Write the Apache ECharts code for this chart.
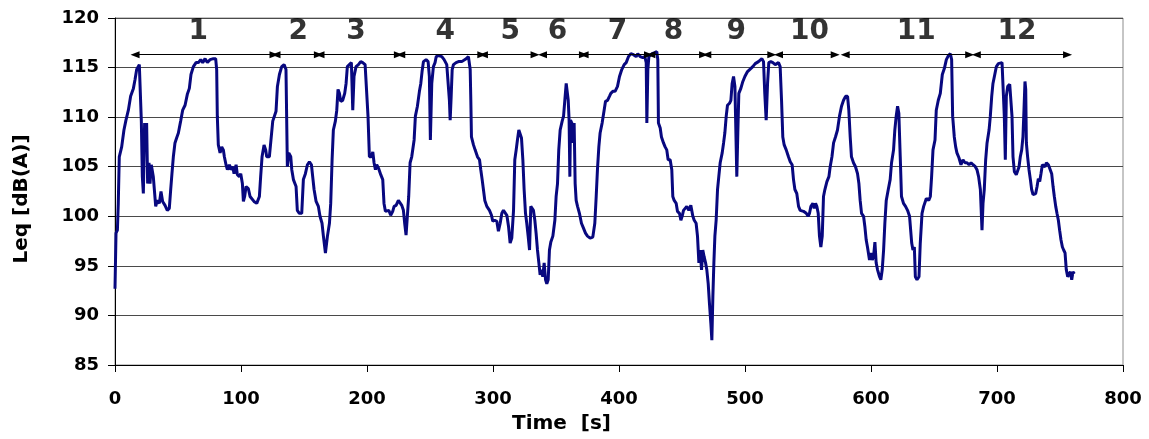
<!DOCTYPE html>
<html>
<head>
<meta charset="utf-8">
<script src="https://cdn.jsdelivr.net/npm/echarts@6/dist/echarts.min.js"></script>
<style>
  html, body { margin: 0; padding: 0; background: #fff; }
  #chart { width: 1149px; height: 439px; }
</style>
</head>
<body>
<div id="chart"></div>
<script>
// Leq trace, [time s, dB(A)], split by stretch
const trace1 = [[0,92.7],[0.8,98.3],[1.9,98.6],[2.6,101.3],[3.4,106.0],[5.3,107.0],[7.1,108.7],[8.7,109.7],[10.6,110.7],[12.4,112.1],[14.6,112.9],[15.9,113.8],[17.2,114.8],[19.3,115.3],[20.4,115.5],[20.9,109.6],[21.7,104.0],[22.5,102.3],[23.5,109.4],[24.3,108.0],[25.1,109.4],[25.9,103.3],[27.0,105.4],[27.8,103.3],[28.8,105.2],[30.4,104.0],[31.2,104.2],[32.3,101.0],[33.6,101.6],[35.2,101.3],[36.5,102.5],[37.8,101.5],[39.7,101.1],[41.5,100.6],[43.1,100.8],[44.2,102.7],[45.2,104.3],[46.3,106.0],[47.6,107.4],[48.9,107.9],[50.3,108.4],[52.1,109.6],[53.7,110.7],[55.6,111.2],[57.4,112.3],[59.0,112.9],[60.3,114.3],[62.2,115.1],[64.3,115.5],[66.2,115.5],[68.0,115.8],[69.6,115.5],[71.5,115.9],[73.3,115.5],[75.4,115.8],[78.1,115.9],[79.9,115.9],[80.7,114.8],[81.2,110.1],[82.0,107.2],[83.4,106.4],[84.7,107.0],[86.0,106.7],[86.8,106.0],[88.1,105.2],[89.2,104.7],[90.8,105.2],[91.8,104.7],[93.4,105.0],[94.5,104.3],[96.1,105.2],[97.1,104.2],[98.7,104.0],[99.8,104.3],[101.1,103.3],[101.9,101.5],[102.9,102.0],[104.0,103.0],[105.8,102.8],[107.2,102.0],[108.5,101.8],[110.3,101.5],[112.5,101.3],[114.6,102.0],[115.6,104.0],[116.7,106.0],[118.3,107.2],[119.6,106.7],[120.4,106.0],[122.5,106.0]]

const trace2 = [[125.2,109.6],[127.8,110.6],[128.9,113.1],[130.5,114.3],[132.3,115.1],[134.2,115.3],[135.7,114.8],[136.8,105.0],[137.9,106.4],[139.5,106.0],[140.3,104.7],[141.6,103.7],[143.7,103.0],[144.7,100.6],[146.3,100.3],[148.2,100.3],[149.5,103.7],[151.1,104.3],[152.7,105.2],[154.3,105.5],[155.9,105.2],[156.9,104.0],[158.0,102.7],[159.6,101.5],[161.4,101.0],[162.7,100.0],[164.3,99.3],[165.4,98.0],[167.0,96.3],[168.6,98.0],[170.2,99.3],[171.2,101.3],[172.3,105.7],[173.3,108.7],[174.9,109.6],[176.0,110.7],[177.0,112.8],[178.1,112.4],[179.1,111.6],[180.7,111.7],[182.3,112.4],[183.4,113.4],[184.4,115.1],[186.0,115.3],[187.6,115.5],[188.7,110.7],[189.7,114.1],[191.3,115.1],[193.2,115.3],[195.0,115.6],[196.6,115.5],[198.5,115.3],[199.8,115.1],[200.8,110.1],[201.9,106.0],[203.5,106.0],[204.6,106.5],[205.6,105.4],[206.7,104.7],[207.7,105.2],[209.3,104.8],[210.9,104.2],[212.5,103.7],[213.5,101.3],[214.6,100.5],[215.7,100.3],[217.3,100.6],[218.8,100.1],[220.4,100.5],[221.5,101.0],[223.1,101.1],[224.9,101.6],[226.2,101.8],[227.6,101.1],[228.9,100.6],[229.9,99.3],[231.0,98.1],[232.1,98.3],[233.1,102.0],[234.2,105.4],[235.5,106.0],[237.4,107.7],[238.4,110.1],[240.0,111.1],[241.6,112.6],[242.7,113.4],[243.7,114.6],[244.8,115.6],[246.9,115.8],[248.5,115.6],[249.5,114.1],[250.3,107.7],[251.4,113.4],[252.7,115.1],[254.0,115.5]]

const trace3 = [[254.9,116.1],[256.7,116.2],[259.4,116.1],[261.2,115.8],[263.3,115.3],[264.7,115.1],[265.4,111.7],[266.0,109.7],[266.8,112.1],[267.6,114.8],[268.6,115.3],[270.7,115.5],[272.6,115.6],[275.2,115.6],[276.6,115.8],[278.7,115.9],[280.5,116.1],[281.3,116.1],[281.9,114.8],[282.4,111.7],[282.9,108.0],[284.5,107.2],[285.8,106.7],[287.7,106.0],[289.3,105.7],[290.3,104.7],[291.4,103.7],[292.4,102.7],[293.5,101.6],[295.1,101.0],[297.2,100.6],[298.8,100.1],[299.8,99.5],[301.4,99.6],[303.0,99.5],[304.3,98.5],[305.7,99.3],[307.0,100.3],[308.3,100.6],[309.6,100.7],[311.0,100.1],[312.3,99.0],[313.6,97.3],[314.9,97.8],[316.3,100.6],[317.3,105.7],[318.4,106.7],[319.4,107.7],[320.5,108.7],[321.5,108.9],[322.6,107.9],[323.7,105.7],[324.7,102.7],[325.8,100.3],[326.8,99.3],[327.9,98.0],[329.0,96.6],[330.0,101.0],[330.8,101.1],[332.1,100.6],[333.2,99.6],[334.2,98.3],[335.3,96.6],[336.4,95.3],[337.4,94.1],[338.5,94.6],[339.5,93.9],[340.6,95.3],[341.7,93.6],[342.7,93.2],[343.8,93.6],[344.8,96.6],[345.9,97.4],[347.5,98.0],[349.1,99.6],[350.1,102.0],[351.2,103.3],[352.2,106.7],[353.3,108.7],[354.9,109.6],[356.0,110.1],[357.0,111.7],[358.1,113.4],[358.9,113.6],[359.7,111.7],[360.4,109.7],[361.0,104.0],[361.5,109.7],[362.6,109.4],[363.4,107.4],[364.4,109.4],[365.2,103.3],[366.0,101.6],[367.1,101.0],[368.6,100.3],[370.2,99.3],[371.8,98.8],[373.4,98.3],[375.0,98.0],[377.1,97.8]]

const trace4 = [[379.2,97.9],[380.8,99.3],[381.9,102.0],[382.9,104.7],[384.0,107.0],[385.0,108.4],[386.6,109.4],[388.2,110.7],[389.3,111.6],[390.9,111.7],[392.4,112.1],[393.5,112.4],[395.1,112.6],[396.9,112.6],[398.8,113.1],[400.4,114.1],[402.2,114.8],[404.1,115.3],[405.7,115.5],[407.5,116.1],[409.4,116.4],[411.5,116.3],[413.6,116.1],[414.9,116.4],[416.8,116.1],[418.9,116.0],[420.5,116.1],[421.6,115.5],[422.1,109.4],[422.9,114.8],[423.7,116.1],[424.7,116.3],[426.3,116.4],[428.4,116.5],[430.0,116.6],[430.8,115.8],[431.3,109.4],[432.7,108.9],[433.7,108.0],[435.3,107.4],[436.6,107.0],[437.9,106.7],[439.0,105.7],[440.6,105.7],[441.9,104.7],[442.7,102.0],[443.8,101.6],[445.4,101.3],[446.4,100.5],[448.0,100.3],[449.1,99.6],[450.1,100.0],[451.2,100.6],[452.5,100.5],[453.8,101.0],[455.4,100.6],[457.0,101.1],[458.6,100.0],[459.7,99.6],[461.2,99.3],[462.3,98.0],[463.4,95.3],[464.4,96.6],[465.5,94.6],[466.5,96.6],[467.6,95.9],[468.7,95.3],[469.7,94.6],[470.8,93.2],[471.8,91.2],[472.9,89.2],[473.7,87.5],[474.5,91.9],[475.3,95.3],[476.1,98.0],[477.1,99.6],[478.2,102.7],[479.2,104.0],[480.3,105.4],[481.9,106.4],[483.0,107.4],[484.0,108.4],[485.1,110.1],[486.1,111.2],[487.7,111.4],[488.8,111.7],[489.8,113.4],[490.9,114.1],[492.0,113.1],[492.5,110.1],[493.5,104.0],[494.3,108.4],[495.1,112.4],[496.7,112.9],[498.3,113.6],[499.9,114.1],[502.0,114.6]]

const trace5 = [[506.2,115.1],[508.1,115.4],[510.7,115.6],[513.4,115.9],[514.7,115.6],[515.7,112.4],[516.8,109.7],[517.9,113.4],[518.9,115.5],[520.5,115.6],[522.1,115.5],[524.0,115.3],[526.6,115.5],[527.9,115.1],[529.0,111.7],[530.0,108.0],[531.1,107.2],[532.7,106.7],[534.5,106.0],[535.9,105.5],[537.4,105.2],[538.5,103.7],[539.6,102.7],[541.1,102.3],[542.5,101.0],[543.8,100.6],[545.1,100.8],[546.4,100.5],[548.6,100.3],[550.1,100.0],[551.2,100.3],[552.3,101.0],[553.9,101.3],[554.9,100.8],[556.0,101.3],[557.0,101.0],[558.1,100.3],[559.1,98.0],[560.2,96.9],[561.3,98.0],[562.3,102.0],[563.4,102.7],[565.0,103.5],[566.6,104.0],[567.6,105.0],[569.0,106.0],[570.3,107.4],[571.8,108.0],[573.4,108.7],[575.0,110.1],[576.6,111.1],[578.2,111.7],[579.8,112.1],[581.4,112.1],[582.4,110.7],[583.5,108.0],[584.5,106.0],[586.1,105.4],[587.7,105.0],[589.3,104.3],[590.4,103.3],[591.4,101.6],[592.5,100.3],[594.1,100.0],[595.1,99.0],[596.2,97.6],[597.2,96.9],[598.8,95.6],[599.9,96.3],[601.0,95.6],[602.0,95.9],[603.1,97.4],[604.1,95.3],[605.2,94.6],[606.8,93.9],[607.8,93.6],[608.9,94.6],[610.0,96.6],[611.0,99.3],[612.1,101.6],[613.7,102.7],[615.2,103.7],[616.3,105.4],[617.9,106.7],[618.9,108.7],[620.0,110.1],[621.1,111.1],[622.1,110.4],[623.2,106.0],[624.2,102.0],[625.8,101.3],[627.4,101.0],[629.0,100.6],[630.6,100.0]]

const trace6 = [[632.3,97.3],[633.3,96.6],[634.4,96.9],[635.2,93.9],[636.5,93.6],[638.1,93.9],[639.1,97.3],[640.5,100.3],[641.8,101.0],[642.8,101.0],[643.9,101.8],[645.8,101.6],[647.1,102.0],[648.1,104.0],[649.2,106.7],[650.8,107.7],[651.8,110.7],[653.4,111.7],[655.0,112.4],[656.6,114.3],[658.2,114.9],[659.8,115.8],[661.4,116.2],[663.0,116.4],[664.0,115.8],[664.8,110.1],[666.1,108.0],[667.2,107.0],[668.2,106.4],[669.8,105.9],[671.4,105.2],[673.0,105.7],[674.6,105.4],[676.2,105.4],[677.8,105.2],[679.4,105.4],[681.0,105.2],[682.8,105.0],[684.1,104.7],[685.4,104.0],[686.8,102.7],[688.1,98.6],[688.9,101.3],[689.9,102.7],[691.0,105.7],[692.1,107.4],[693.7,108.7],[694.7,110.1],[695.8,112.1],[696.8,113.4],[698.4,114.4],[699.5,115.1],[701.1,115.4],[702.6,115.5],[704.0,115.5],[704.8,113.1],[705.8,110.1],[706.6,105.7],[707.4,112.1],[708.5,113.1],[710.1,113.3],[711.1,113.1],[711.9,110.1],[712.7,106.0],[713.8,104.5],[715.3,104.2],[716.4,104.3],[717.5,105.0],[718.5,106.0],[719.6,106.7],[720.6,108.0],[721.4,110.7],[722.2,113.6],[722.8,112.8],[723.3,107.4],[724.3,106.0],[725.4,104.7],[726.5,103.7],[727.5,102.7],[728.6,102.2],[729.6,102.3],[730.7,102.3],[731.8,103.0],[732.8,103.8],[733.9,103.5],[734.9,104.3],[736.0,105.2],[737.0,105.4],[738.1,105.0],[739.2,105.4],[740.8,105.2],[742.3,105.0],[743.4,104.3],[744.5,103.0],[745.5,102.0],[746.6,101.0],[747.6,100.3],[748.7,99.6],[749.7,98.6],[750.8,97.6],[751.9,96.9],[752.9,96.6],[754.0,96.3],[755.0,94.6],[756.1,93.9],[757.2,93.9],[758.2,94.4],[759.3,93.6],[760.3,94.4],[761.4,94.2]]

// measurement segments shown by the arrows
const segNames = ['1', '2', '3', '4', '5', '6', '7', '8', '9', '10', '11', '12']
const segStart = [15.9, 127.8, 162.7, 226.8, 292.4, 339.3, 372.3, 425.3, 469.7, 526.6, 579.5, 683.6]
const segEnd = [126.2, 161.4, 224.9, 291.1, 333.4, 371.8, 423.4, 467.1, 521.3, 571.6, 678.3, 756.0]
const segLabelX = [66.1, 145.5, 191.3, 262.0, 313.6, 351.2, 398.8, 443.2, 493.0, 551.2, 635.9, 715.8]
const arrowLevel = 116.3
const labelLevel = 118.6

const chart = echarts.init(document.getElementById('chart'))

const leq = [].concat(trace1, trace2, trace3, trace4, trace5, trace6)

const arrows = segStart.map((s, i) => [
  { coord: [s, arrowLevel] },
  { coord: [segEnd[i], arrowLevel] },
])

const font = 'DejaVu Sans'

chart.setOption({
  animation: false,
  grid: {
    left: 115,
    right: 26,
    top: 18,
    bottom: 74,
    show: true,
    borderColor: '#8c8c8c',
    borderWidth: 1,
  },
  xAxis: {
    type: 'value',
    min: 0,
    max: 800,
    interval: 100,
    axisLine: { lineStyle: { color: '#000', width: 1 } },
    axisTick: { show: true, length: 7, lineStyle: { color: '#000' } },
    axisLabel: { color: '#000', fontFamily: font, fontWeight: 'bold', fontSize: 18, margin: 25 },
    splitLine: { show: false },
  },
  yAxis: {
    type: 'value',
    min: 85,
    max: 120,
    interval: 5,
    axisLine: { show: true, lineStyle: { color: '#000', width: 1 } },
    axisTick: { show: true, length: 7, lineStyle: { color: '#000' } },
    axisLabel: { color: '#000', fontFamily: font, fontWeight: 'bold', fontSize: 18, margin: 16 },
    splitLine: { show: true, lineStyle: { color: '#4a4a4a', width: 1 } },
  },
  graphic: [
    {
      type: 'text',
      left: 512,
      top: 414,
      style: { text: 'Time  [s]', fontFamily: font, fontWeight: 'bold', fontSize: 20, fill: '#000' },
    },
    {
      type: 'text',
      x: 22,
      y: 199,
      rotation: Math.PI / 2,
      style: {
        text: 'Leq [dB(A)]',
        fontFamily: font,
        fontWeight: 'bold',
        fontSize: 20,
        fill: '#000',
        align: 'center',
        verticalAlign: 'middle',
      },
    },
  ],
  series: [
    {
      name: 'Leq',
      type: 'line',
      data: leq,
      showSymbol: false,
      symbol: 'none',
      lineStyle: { color: '#08087f', width: 3 },
      z: 3,
    },
    {
      name: 'segments',
      type: 'line',
      data: [],
      markLine: {
        silent: true,
        symbol: ['triangle', 'triangle'],
        symbolSize: [7, 9],
        label: { show: false },
        lineStyle: { color: '#000', type: 'solid', width: 1 },
        data: arrows,
      },
      z: 2,
    },
    {
      name: 'segLabels',
      type: 'scatter',
      symbolSize: 0,
      data: segLabelX.map((x, i) => ({ value: [x, labelLevel], name: segNames[i] })),
      label: {
        show: true,
        position: 'inside',
        formatter: '{b}',
        color: '#000',
        fontFamily: font,
        fontWeight: 'bold',
        fontSize: 28,
      },
      silent: true,
      z: 4,
    },
  ],
})
</script>
</body>
</html>
